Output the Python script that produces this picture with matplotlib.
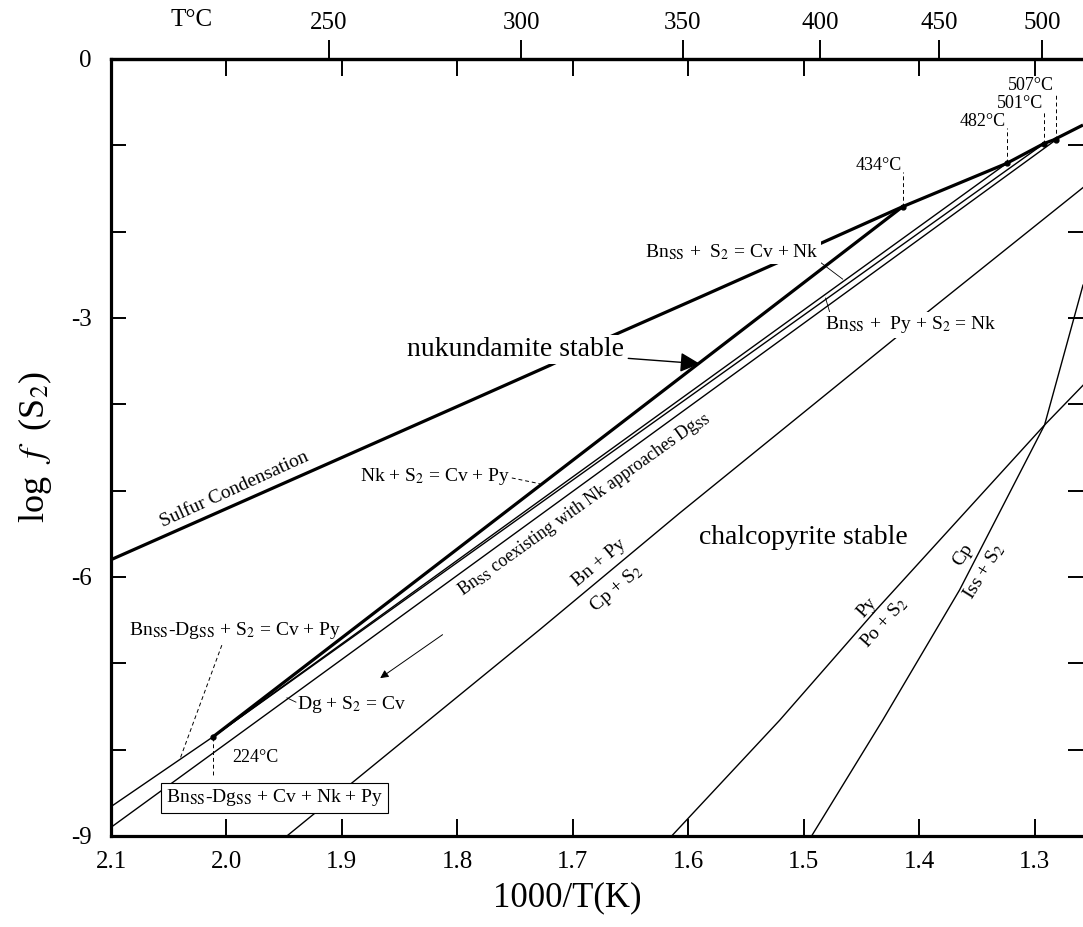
import numpy as np
import matplotlib
matplotlib.use('Agg')
import matplotlib.pyplot as plt

plt.rcParams['font.family'] = ['Liberation Serif', 'DejaVu Serif']
plt.rcParams['mathtext.fontset'] = 'stix'

# axis ticks
x_ticks = [2.1, 2.0, 1.9, 1.8, 1.7, 1.6, 1.5, 1.4, 1.3]
x_tick_labels = ['2.1', '2.0', '1.9', '1.8', '1.7', '1.6', '1.5', '1.4', '1.3']
y_ticks = [-9, -8, -7, -6, -5, -4, -3, -2, -1, 0]
y_tick_labels = ['-9', '', '', '-6', '', '', '-3', '', '', '0']
temp_ticks = [250, 300, 350, 400, 450, 500]

# invariant points (T in degC, log f(S2))
inv_temp = [224, 434, 482, 501, 507]
inv_logfs2 = [-7.85, -1.71, -1.21, -0.98, -0.94]

# curves, x = 1000/T(K)
sulfur_x = [2.1, 1.789, 1.720, 1.668, 1.590, 1.521, 1.4141, 1.3242, 1.2919, 1.2839, 1.258]
sulfur_y = [-5.80, -3.96, -3.55, -3.22, -2.76, -2.35, -1.71, -1.21, -0.98, -0.94, -0.765]

bndg_x = [2.1]
bndg_y = [-8.66]

dg_cv_x = [2.1]
dg_cv_y = [-8.90]

bn_py_x = [1.9476, 1.7286, 1.6074, 1.3935, 1.258]
bn_py_y = [-9.0, -6.61, -5.26, -2.94, -1.49]

py_po_x = [1.6143, 1.5208, 1.4371, 1.2913, 1.258]
py_po_y = [-9.0, -7.66, -6.38, -4.24, -3.78]

cp_iss_x = [1.4931, 1.4316, 1.3649, 1.2913, 1.258]
cp_iss_y = [-9.0, -7.66, -6.15, -4.24, -2.62]


def to_x(t):
    return 1000.0 / (np.asarray(t, dtype=float) + 273.15)


def k_to_c(x):
    x = np.asarray(x, dtype=float)
    with np.errstate(divide='ignore'):
        return 1000.0 / x - 273.15


def ss(s):
    return s.replace('SS', r'$_{\mathrm{SS}}$').replace('S2', r'S$_2$')


def draw_curves(ax, inv_x):
    thin = dict(color='black', lw=1.0)
    thick = dict(color='black', lw=2.3, solid_capstyle='butt')
    ax.plot(sulfur_x, sulfur_y, **thick)
    # lines from the 224 C point
    ax.plot(bndg_x + [inv_x[0]], bndg_y + [inv_logfs2[0]], **thin)
    ax.plot([inv_x[0], inv_x[1]], [inv_logfs2[0], inv_logfs2[1]], **thick)
    ax.plot([inv_x[0], inv_x[2]], [inv_logfs2[0], inv_logfs2[2]], **thin)
    ax.plot([inv_x[0], inv_x[3]], [inv_logfs2[0], inv_logfs2[3]], **thin)
    ax.plot(dg_cv_x + [inv_x[4]], dg_cv_y + [inv_logfs2[4]], **thin)
    ax.plot(bn_py_x, bn_py_y, **thin)
    ax.plot(py_po_x, py_po_y, **thin)
    ax.plot(cp_iss_x, cp_iss_y, **thin)
    ax.plot(inv_x, inv_logfs2, 'o', color='black', ms=3.5, zorder=4)


def draw_labels(ax, inv_x):
    dash = dict(color='black', lw=0.7, ls=(0, (4, 3)))
    # temperature labels of invariant points
    tops = [-8.32, -1.31, -0.80, -0.60, -0.39]
    for i in range(1, 5):
        ax.plot([inv_x[i], inv_x[i]], [inv_logfs2[i], tops[i]], **dash)
        ax.text(inv_x[i] + 0.001, tops[i] - 0.02, f'{inv_temp[i]}°C', ha='right', va='bottom', fontsize=13)
    ax.plot([inv_x[0], inv_x[0]], [inv_logfs2[0], tops[0]], **dash)
    ax.text(1.995, -8.09, '224°C', ha='left', va='center', fontsize=13)

    white = dict(facecolor='white', edgecolor='none', pad=1.5)
    ax.text(1.958, -8.56, ss('BnSS-DgSS + Cv + Nk + Py'), ha='center', va='center', fontsize=14,
            bbox=dict(facecolor='white', edgecolor='black', lw=0.8, boxstyle='square,pad=0.25'))

    ax.text(1.9926, -6.62, ss('BnSS-DgSS + S2 = Cv + Py'), ha='center', va='center', fontsize=14)
    ax.plot([2.004, 2.040], [-6.79, -8.10], **dash)

    ax.text(1.939, -7.48, ss('Dg + S2 = Cv'), ha='left', va='center', fontsize=14)
    ax.plot([1.9398, 1.9476], [-7.45, -7.40], color='black', lw=0.6)

    ax.text(1.993, -4.99, 'Sulfur Condensation', ha='center', va='center', fontsize=14, rotation=24.5)

    ax.text(1.8844, -4.84, ss('Nk + S2 = Cv + Py'), ha='left', va='center', fontsize=14)
    ax.plot([1.7528, 1.7286], [-4.853, -4.92], **dash)

    ax.annotate('nukundamite stable', xy=(1.590, -3.53), xytext=(1.750, -3.37),
                ha='center', va='center', fontsize=20, bbox=white,
                arrowprops=dict(arrowstyle='-|>', mutation_scale=30, lw=1.0, color='black',
                                shrinkA=2, shrinkB=0))

    ax.text(1.6377, -2.236, ss('BnSS +  S2 = Cv + Nk'), ha='left', va='center', fontsize=14, bbox=white)
    ax.plot([1.4905, 1.4662], [-2.305, -2.55], color='black', lw=0.6)

    ax.text(1.4818, -3.08, ss('BnSS +  Py + S2 = Nk'), ha='left', va='center', fontsize=14, bbox=white)
    ax.plot([1.4775, 1.481], [-2.93, -2.77], color='black', lw=0.6)

    ax.text(1.7952, -6.22, ss('BnSS coexisting with Nk approaches DgSS'), ha='left', va='baseline',
            fontsize=13, rotation=35.5, rotation_mode='anchor')
    ax.annotate('', xy=(1.8688, -7.19), xytext=(1.8108, -6.65),
                arrowprops=dict(arrowstyle='-|>', mutation_scale=12, lw=0.7, color='black'))

    ax.text(1.50, -5.54, 'chalcopyrite stable', ha='center', va='center', fontsize=20)

    ax.text(1.6775, -5.84, 'Bn + Py', ha='center', va='center', fontsize=14, rotation=40)
    ax.text(1.6619, -6.13, ss('Cp + S2'), ha='center', va='center', fontsize=14, rotation=40)
    ax.text(1.4455, -6.35, 'Py', ha='center', va='center', fontsize=14, rotation=48)
    ax.text(1.4299, -6.53, ss('Po + S2'), ha='center', va='center', fontsize=14, rotation=48)
    ax.text(1.3623, -5.745, 'Cp', ha='center', va='center', fontsize=14, rotation=58)
    ax.text(1.3433, -5.94, ss('Iss + S2'), ha='center', va='center', fontsize=14, rotation=58)


def main():
    fig = plt.figure(figsize=(10.83, 9.27), dpi=100)
    ax = fig.add_axes([0.1025, 0.0982, 0.8975, 0.8382])

    inv_x = list(to_x(inv_temp))
    draw_curves(ax, inv_x)
    draw_labels(ax, inv_x)

    ax.set_xlim(2.1, 1.258)
    ax.set_ylim(-9, 0)
    ax.set_xticks(x_ticks)
    ax.set_xticklabels(x_tick_labels)
    ax.set_yticks(y_ticks)
    ax.set_yticklabels(y_tick_labels)
    ax.tick_params(axis='x', direction='in', length=12, width=1.4, top=True, bottom=True,
                   labelsize=18, pad=11)
    ax.tick_params(axis='y', direction='in', length=11, width=1.4, left=True, right=True,
                   labelsize=18, pad=14)
    for side in ['left', 'bottom', 'top']:
        ax.spines[side].set_linewidth(2.3)
    ax.spines['right'].set_visible(False)

    ax.set_xlabel('1000/T(K)', fontsize=25)
    ax.xaxis.set_label_coords(0.469, -0.058)
    ax.set_ylabel(r'log  $f$  (S$_2$)', fontsize=26, labelpad=12)

    sec = ax.secondary_xaxis('top', functions=(k_to_c, to_x))
    sec.set_xticks(temp_ticks)
    sec.set_xticklabels([str(t) for t in temp_ticks])
    sec.tick_params(direction='out', length=14, width=1.4, labelsize=18, pad=4)
    sec.spines['top'].set_linewidth(2.3)
    ax.text(2.03, 1.05, 'T°C', transform=ax.get_xaxis_transform(), ha='center', va='center',
            fontsize=18)

    fig.savefig('out.png', dpi=100)


if __name__ == '__main__':
    main()
